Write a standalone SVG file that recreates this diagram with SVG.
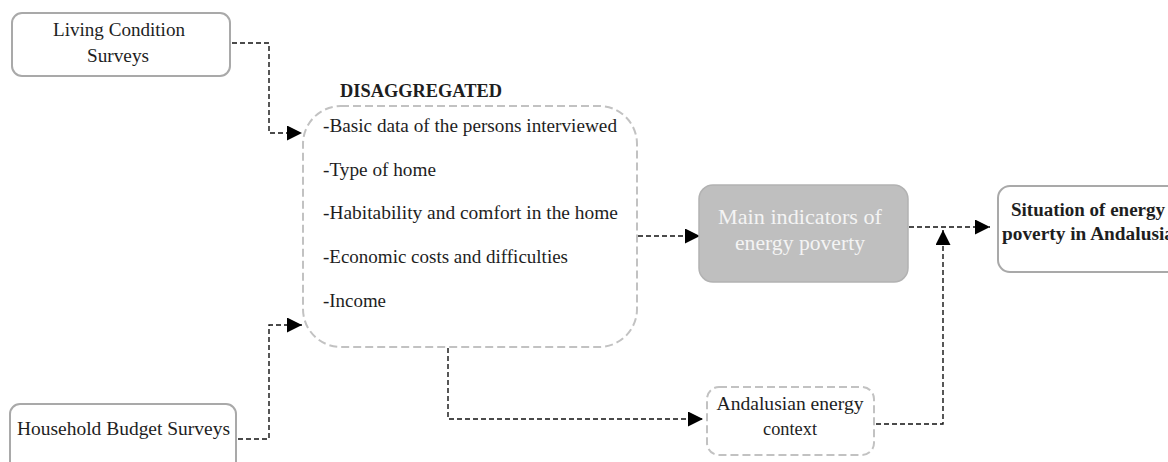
<svg xmlns="http://www.w3.org/2000/svg" width="1168" height="462" viewBox="0 0 1168 462">
<defs>
<marker id="arr" markerUnits="userSpaceOnUse" markerWidth="15" markerHeight="15" refX="15" refY="7.5" orient="auto">
<path d="M0,0 L15,7.5 L0,15 z" fill="#000"/>
</marker>
<style>
.box{fill:#fff;stroke:#a9a9a9;stroke-width:2}
.dbox{fill:#fff;stroke:#c2c2c2;stroke-width:2;stroke-dasharray:8 4}
.main{fill:#bfbfbf;stroke:#b2b2b2;stroke-width:1.5}
.t{font-family:"Liberation Serif","Times New Roman",serif;font-size:18px;fill:#1e1e1e}
.b{font-weight:bold}
.w{fill:#f4f4f4;font-size:21px}
.c{text-anchor:middle}
.conn{fill:none;stroke:#111;stroke-width:1.4;stroke-dasharray:5 3}
</style>
</defs>
<rect width="1168" height="462" fill="#fff"/>
<g id="connectors">
<path class="conn" d="M232,43 H269 V133 H302" marker-end="url(#arr)"/>
<path class="conn" d="M238,439 H269 V325 H302" marker-end="url(#arr)"/>
<path class="conn" d="M638,236 H700" marker-end="url(#arr)"/>
<path class="conn" d="M448,348 V419 H703" marker-end="url(#arr)"/>
<path class="conn" d="M909,227 H990" marker-end="url(#arr)"/>
<path class="conn" d="M876,424 H943 V230" marker-end="url(#arr)"/>
</g>
<g id="living">
<rect class="box" x="12" y="13" width="218" height="63" rx="10"/>
<text class="t c" x="119" y="36" textLength="132" lengthAdjust="spacingAndGlyphs">Living Condition</text>
<text class="t c" x="118" y="62" textLength="62" lengthAdjust="spacingAndGlyphs">Surveys</text>
</g>
<g id="household">
<rect class="box" x="10" y="404" width="226" height="72" rx="10"/>
<text class="t" x="17" y="435" textLength="213" lengthAdjust="spacingAndGlyphs">Household Budget Surveys</text>
</g>
<g id="disaggregated">
<text class="t b" x="340" y="97" textLength="162" lengthAdjust="spacingAndGlyphs">DISAGGREGATED</text>
<rect class="dbox" x="303" y="106" width="334" height="241" rx="38"/>
<text class="t" x="323" y="132" textLength="294" lengthAdjust="spacingAndGlyphs">-Basic data of the persons interviewed</text>
<text class="t" x="323" y="176" textLength="113" lengthAdjust="spacingAndGlyphs">-Type of home</text>
<text class="t" x="323" y="219" textLength="295" lengthAdjust="spacingAndGlyphs">-Habitability and comfort in the home</text>
<text class="t" x="323" y="263" textLength="245" lengthAdjust="spacingAndGlyphs">-Economic costs and difficulties</text>
<text class="t" x="323" y="307" textLength="63" lengthAdjust="spacingAndGlyphs">-Income</text>
</g>
<g id="main-indicators">
<rect class="main" x="699" y="185" width="209" height="97" rx="14"/>
<text class="t w c" x="800" y="224" textLength="164" lengthAdjust="spacingAndGlyphs">Main indicators of</text>
<text class="t w c" x="800" y="250" textLength="130" lengthAdjust="spacingAndGlyphs">energy poverty</text>
</g>
<g id="situation">
<rect class="box" x="998" y="186" width="184" height="86" rx="12"/>
<text class="t b c" x="1088" y="216" textLength="154" lengthAdjust="spacingAndGlyphs">Situation of energy</text>
<text class="t b c" x="1088" y="240" textLength="172" lengthAdjust="spacingAndGlyphs">poverty in Andalusia</text>
</g>
<g id="context">
<rect class="dbox" x="707" y="387" width="167" height="68" rx="12"/>
<text class="t c" x="790" y="410" textLength="147" lengthAdjust="spacingAndGlyphs">Andalusian energy</text>
<text class="t c" x="790" y="435" textLength="54" lengthAdjust="spacingAndGlyphs">context</text>
</g>
</svg>
